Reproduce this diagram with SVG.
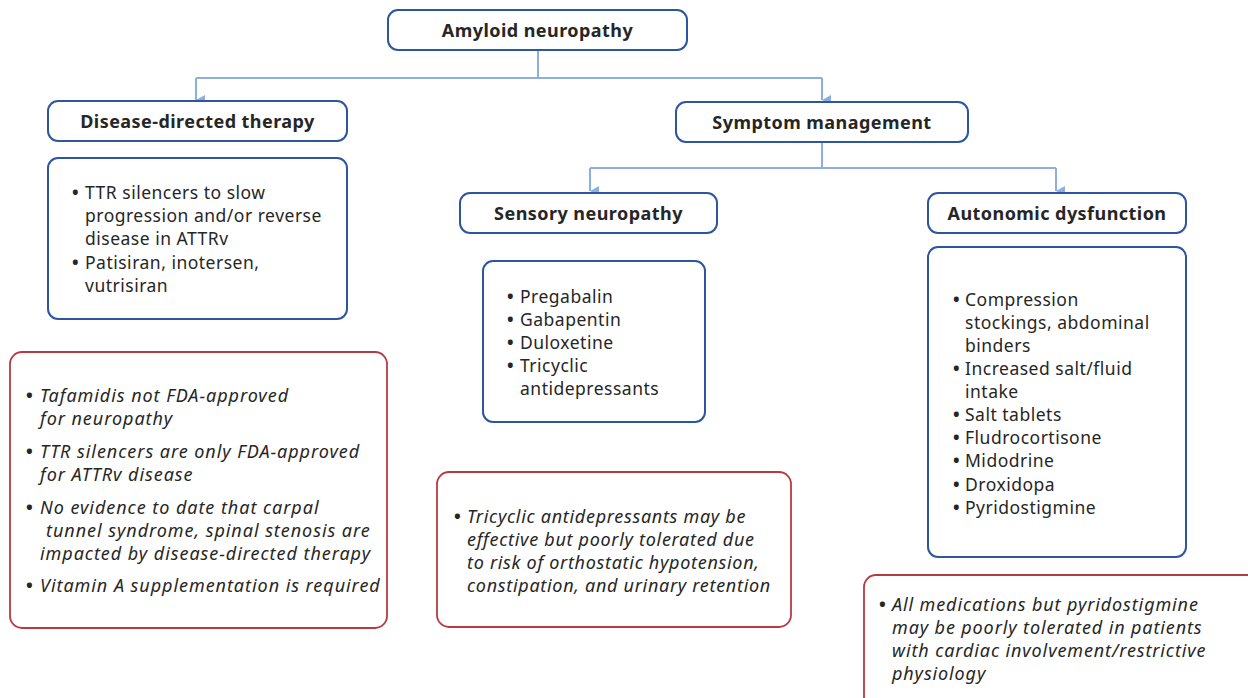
<svg xmlns="http://www.w3.org/2000/svg" width="1248" height="698" viewBox="0 0 1248 698">
<defs>
<style>
text{font-family:"Noto Sans","Open Sans","DejaVu Sans",sans-serif;fill:#262626}
.t{font-weight:bold;font-size:18px;text-anchor:middle;letter-spacing:0.45px}
.b{font-size:17.5px;letter-spacing:0.5px}
.i{font-size:18px;font-style:italic;letter-spacing:0.7px}
.il{letter-spacing:0.95px}
.ir{letter-spacing:0.88px}
.d{font-weight:bold;font-style:normal;letter-spacing:0}
.hb{fill:#fff;stroke:#2c56a0;stroke-width:2}
.rb{fill:#fff;stroke:#b83a40;stroke-width:1.8}
.c{fill:none;stroke:#8eaedd;stroke-width:2}
</style>
<marker id="ah" viewBox="0 0 10 10" refX="5" refY="9" markerWidth="10" markerHeight="10" markerUnits="userSpaceOnUse" orient="auto-start-reverse">
<path d="M0,0 L10,0 L5,9 z" fill="#8eaedd"/>
</marker>
</defs>
<rect width="1248" height="698" fill="#fff"/>
<g id="connectors">
<path class="c" d="M538,50 V78"/>
<path class="c" d="M196,78 H822"/>
<path class="c" d="M196,78 V100" marker-end="url(#ah)"/>
<path class="c" d="M822,78 V100" marker-end="url(#ah)"/>
<path class="c" d="M822,142 V168"/>
<path class="c" d="M590,168 H1056"/>
<path class="c" d="M590,168 V191" marker-end="url(#ah)"/>
<path class="c" d="M1056,168 V191" marker-end="url(#ah)"/>
</g>
<g id="amyloid">
<rect class="hb" x="388" y="10" width="299" height="40" rx="10"/>
<text class="t" x="537.5" y="37">Amyloid neuropathy</text>
</g>
<g id="disease-directed">
<rect class="hb" x="48" y="101" width="299" height="40" rx="10"/>
<text class="t" x="197.5" y="128">Disease-directed therapy</text>
</g>
<g id="symptom">
<rect class="hb" x="676" y="102" width="292" height="40" rx="10"/>
<text class="t" x="822" y="129">Symptom management</text>
</g>
<g id="disease-list">
<rect class="hb" x="48" y="158" width="299" height="161" rx="10"/>
<text class="b"><tspan class="d" x="72" y="199">•</tspan><tspan x="85" y="199">TTR silencers to slow</tspan><tspan x="85" y="222">progression and/or reverse</tspan><tspan x="85" y="245">disease in ATTRv</tspan><tspan class="d" x="72" y="269">•</tspan><tspan x="85" y="269">Patisiran, inotersen,</tspan><tspan x="85" y="292">vutrisiran</tspan></text>
</g>
<g id="disease-notes">
<rect class="rb" x="10" y="352" width="377" height="276" rx="12"/>
<text class="i il"><tspan class="d" x="26" y="402">•</tspan><tspan x="40" y="402">Tafamidis not FDA-approved</tspan><tspan x="40" y="425">for neuropathy</tspan><tspan class="d" x="26" y="458">•</tspan><tspan x="40" y="458">TTR silencers are only FDA-approved</tspan><tspan x="40" y="481">for ATTRv disease</tspan><tspan class="d" x="26" y="514">•</tspan><tspan x="40" y="514">No evidence to date that carpal</tspan><tspan x="46" y="537">tunnel syndrome, spinal stenosis are</tspan><tspan x="40" y="560">impacted by disease-directed therapy</tspan><tspan class="d" x="26" y="592">•</tspan><tspan x="40" y="592">Vitamin A supplementation is required</tspan></text>
</g>
<g id="sensory">
<rect class="hb" x="460" y="193" width="257" height="40" rx="10"/>
<text class="t" x="588.5" y="220">Sensory neuropathy</text>
</g>
<g id="sensory-list">
<rect class="hb" x="483" y="261" width="222" height="161" rx="10"/>
<text class="b"><tspan class="d" x="507" y="303">•</tspan><tspan x="520" y="303">Pregabalin</tspan><tspan class="d" x="507" y="326">•</tspan><tspan x="520" y="326">Gabapentin</tspan><tspan class="d" x="507" y="349">•</tspan><tspan x="520" y="349">Duloxetine</tspan><tspan class="d" x="507" y="372">•</tspan><tspan x="520" y="372">Tricyclic</tspan><tspan x="520" y="395">antidepressants</tspan></text>
</g>
<g id="sensory-notes">
<rect class="rb" x="437" y="472" width="354" height="155" rx="12"/>
<text class="i"><tspan class="d" x="454" y="523">•</tspan><tspan x="467" y="523">Tricyclic antidepressants may be</tspan><tspan x="467" y="546">effective but poorly tolerated due</tspan><tspan x="467" y="569">to risk of orthostatic hypotension,</tspan><tspan x="467" y="592">constipation, and urinary retention</tspan></text>
</g>
<g id="autonomic">
<rect class="hb" x="928" y="193" width="258" height="40" rx="10"/>
<text class="t" x="1057" y="220">Autonomic dysfunction</text>
</g>
<g id="autonomic-list">
<rect class="hb" x="928" y="247" width="258" height="310" rx="10"/>
<text class="b"><tspan class="d" x="953" y="306">•</tspan><tspan x="965" y="306">Compression</tspan><tspan x="965" y="329">stockings, abdominal</tspan><tspan x="965" y="352">binders</tspan><tspan class="d" x="953" y="375">•</tspan><tspan x="965" y="375">Increased salt/fluid</tspan><tspan x="965" y="398">intake</tspan><tspan class="d" x="953" y="421">•</tspan><tspan x="965" y="421">Salt tablets</tspan><tspan class="d" x="953" y="444">•</tspan><tspan x="965" y="444">Fludrocortisone</tspan><tspan class="d" x="953" y="467">•</tspan><tspan x="965" y="467">Midodrine</tspan><tspan class="d" x="953" y="491">•</tspan><tspan x="965" y="491">Droxidopa</tspan><tspan class="d" x="953" y="514">•</tspan><tspan x="965" y="514">Pyridostigmine</tspan></text>
</g>
<g id="autonomic-notes">
<rect class="rb" x="864" y="575" width="400" height="140" rx="12"/>
<text class="i ir"><tspan class="d" x="879" y="611">•</tspan><tspan x="892" y="611">All medications but pyridostigmine</tspan><tspan x="892" y="634">may be poorly tolerated in patients</tspan><tspan x="892" y="657">with cardiac involvement/restrictive</tspan><tspan x="892" y="680">physiology</tspan></text>
</g>
</svg>
